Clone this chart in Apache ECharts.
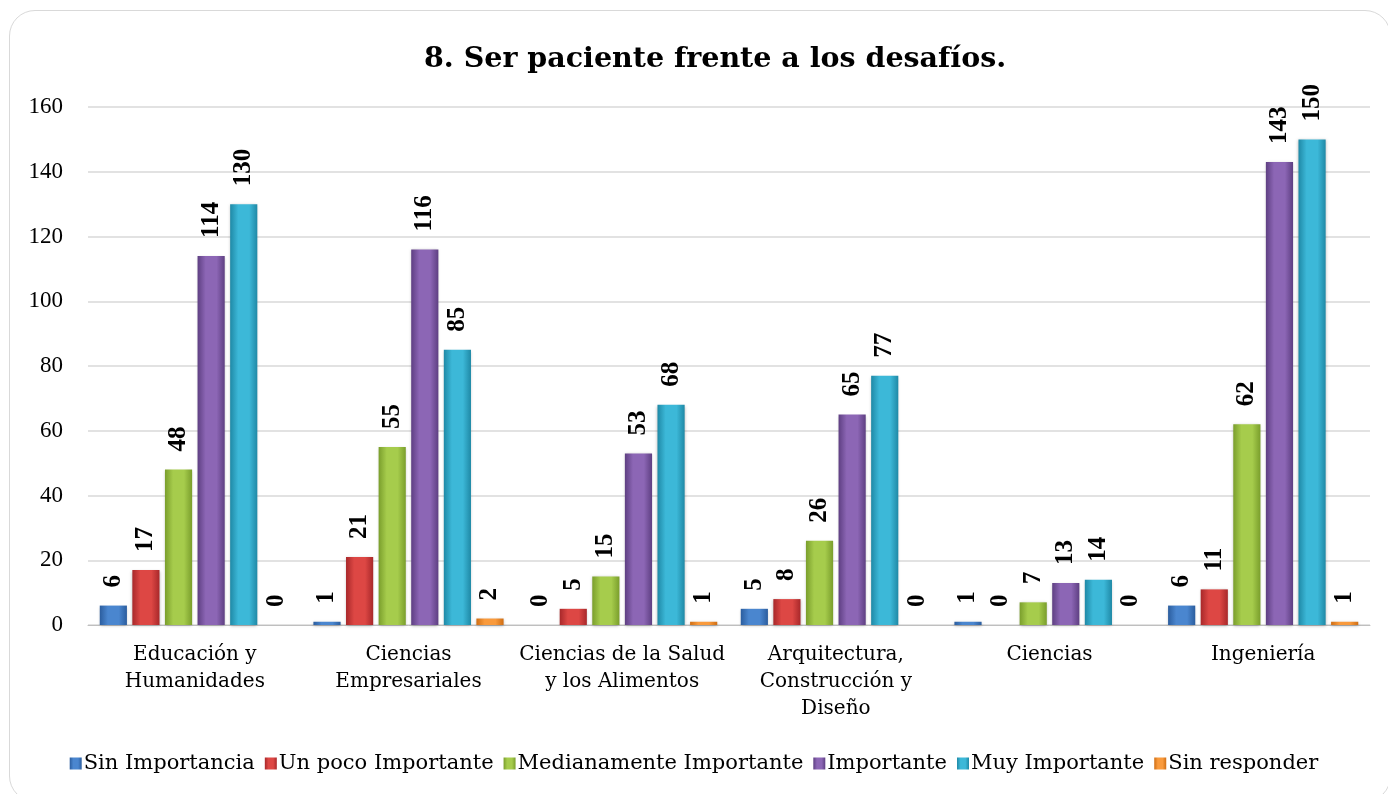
<!DOCTYPE html>
<html>
<head>
<meta charset="utf-8">
<script src="https://cdn.jsdelivr.net/npm/echarts@6/dist/echarts.min.js"></script>
<style>
  html, body { margin: 0; padding: 0; background: #fff; overflow: hidden; }
  #frame {
    position: absolute; left: 9px; top: 10px; width: 1382px; height: 792px;
    border: 1.5px solid #d9d9d9; border-radius: 26px; box-sizing: border-box;
  }
  #chart { position: absolute; left: 0; top: 0; width: 1388px; height: 794px; }
</style>
</head>
<body>
<div id="frame"></div>
<div id="chart"></div>
<script>
const categories = [
  'Educación y\nHumanidades',
  'Ciencias\nEmpresariales',
  'Ciencias de la Salud\ny los Alimentos',
  'Arquitectura,\nConstrucción y\nDiseño',
  'Ciencias',
  'Ingeniería'
]
const seriesNames = ['Sin Importancia', 'Un poco Importante', 'Medianamente Importante', 'Importante', 'Muy Importante', 'Sin responder']
const sinImportancia = [6, 1, 0, 5, 1, 6]
const unPocoImportante = [17, 21, 5, 8, 0, 11]
const medianamenteImportante = [48, 55, 15, 26, 7, 62]
const importante = [114, 116, 53, 65, 13, 143]
const muyImportante = [130, 85, 68, 77, 14, 150]
const sinResponder = [0, 2, 1, 0, 0, 1]
const yTicks = [0, 20, 40, 60, 80, 100, 120, 140, 160]

const values = [sinImportancia, unPocoImportante, medianamenteImportante, importante, muyImportante, sinResponder]
const colors = [
  ['#2b5d9e', '#4a86cf', '#2b5d9e'],
  ['#a8282a', '#dd4744', '#a8282a'],
  ['#7a9e2c', '#a6cc4c', '#7a9e2c'],
  ['#5e3f82', '#8c66b5', '#5e3f82'],
  ['#1f89a6', '#3cb8d8', '#1f89a6'],
  ['#cf6e14', '#f99a3c', '#cf6e14']
]
const font = '"DejaVu Serif", "Liberation Serif", serif'
const numFont = '"Liberation Serif", "DejaVu Serif", serif'

const chart = echarts.init(document.getElementById('chart'))
const option = {
  animation: false,
  textStyle: { fontFamily: font },
  title: {
    text: '8. Ser paciente frente a los desafíos.',
    left: 419,
    top: 40,
    textStyle: { fontFamily: font, fontSize: 28.5, fontWeight: 'bold', color: '#000' }
  },
  grid: { left: 88, right: 18, top: 107, bottom: 169, containLabel: false },
  legend: {
    bottom: 15,
    left: 'center',
    itemWidth: 12,
    itemHeight: 12,
    itemGap: 10,
    icon: 'rect',
    textStyle: { fontFamily: font, fontSize: 21, color: '#000', padding: [0, 0, 0, -3] },
    data: seriesNames
  },
  xAxis: {
    type: 'category',
    data: categories,
    axisLine: { lineStyle: { color: '#bfbfbf', width: 1 } },
    axisTick: { show: false },
    axisLabel: { interval: 0, color: '#000', fontSize: 20, lineHeight: 27, margin: 16, fontFamily: font }
  },
  yAxis: {
    type: 'value',
    min: 0,
    max: 160,
    interval: 20,
    axisLine: { show: false },
    axisTick: { show: false },
    splitLine: { lineStyle: { color: '#d9d9d9', width: 1.5 } },
    axisLabel: {
      color: '#000', fontSize: 23, margin: 25, fontFamily: numFont,
      formatter: v => (yTicks.indexOf(v) >= 0 ? String(v) : '')
    }
  },
  series: seriesNames.map((name, i) => ({
    name: name,
    type: 'bar',
    data: values[i],
    barGap: '20%',
    barCategoryGap: '11%',
    itemStyle: {
      color: new echarts.graphic.LinearGradient(0, 0, 1, 0, [
        { offset: 0, color: colors[i][0] },
        { offset: 0.3, color: colors[i][1] },
        { offset: 0.7, color: colors[i][1] },
        { offset: 1, color: colors[i][2] }
      ]),
      shadowColor: 'rgba(0,0,0,0.25)',
      shadowBlur: 3,
      shadowOffsetY: 1
    },
    label: {
      show: true,
      position: 'top',
      rotate: 90,
      align: 'left',
      verticalAlign: 'middle',
      distance: 18,
      color: '#000',
      fontSize: 25,
      fontWeight: 'bold',
      fontFamily: numFont
    }
  }))
}
chart.setOption(option)
</script>
</body>
</html>
